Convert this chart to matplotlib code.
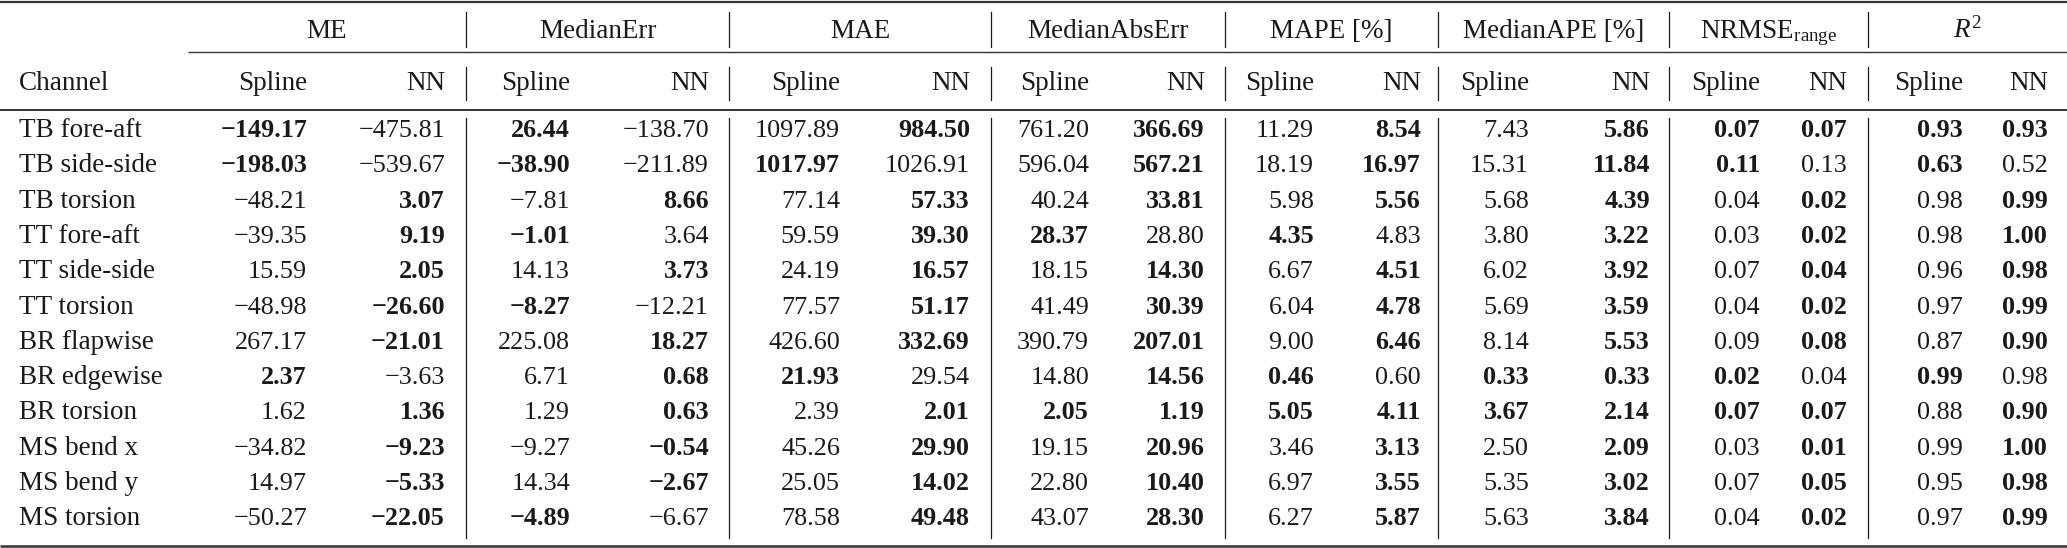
import matplotlib
matplotlib.use("Agg")
import matplotlib.pyplot as plt

# data
channels = ["TB fore-aft", "TB side-side", "TB torsion", "TT fore-aft", "TT side-side",
            "TT torsion", "BR flapwise", "BR edgewise", "BR torsion", "MS bend x",
            "MS bend y", "MS torsion"]
metrics = ["ME", "MedianErr", "MAE", "MedianAbsErr", "MAPE [%]", "MedianAPE [%]",
           "NRMSE$_{\\mathrm{range}}$", "$R^2$"]
methods = ["Spline", "NN"]

me_spline = [-149.17, -198.03, -48.21, -39.35, 15.59, -48.98, 267.17, 2.37, 1.62, -34.82, 14.97, -50.27]
me_nn = [-475.81, -539.67, 3.07, 9.19, 2.05, -26.60, -21.01, -3.63, 1.36, -9.23, -5.33, -22.05]
mederr_spline = [26.44, -38.90, -7.81, -1.01, 14.13, -8.27, 225.08, 6.71, 1.29, -9.27, 14.34, -4.89]
mederr_nn = [-138.70, -211.89, 8.66, 3.64, 3.73, -12.21, 18.27, 0.68, 0.63, -0.54, -2.67, -6.67]
mae_spline = [1097.89, 1017.97, 77.14, 59.59, 24.19, 77.57, 426.60, 21.93, 2.39, 45.26, 25.05, 78.58]
mae_nn = [984.50, 1026.91, 57.33, 39.30, 16.57, 51.17, 332.69, 29.54, 2.01, 29.90, 14.02, 49.48]
medabs_spline = [761.20, 596.04, 40.24, 28.37, 18.15, 41.49, 390.79, 14.80, 2.05, 19.15, 22.80, 43.07]
medabs_nn = [366.69, 567.21, 33.81, 28.80, 14.30, 30.39, 207.01, 14.56, 1.19, 20.96, 10.40, 28.30]
mape_spline = [11.29, 18.19, 5.98, 4.35, 6.67, 6.04, 9.00, 0.46, 5.05, 3.46, 6.97, 6.27]
mape_nn = [8.54, 16.97, 5.56, 4.83, 4.51, 4.78, 6.46, 0.60, 4.11, 3.13, 3.55, 5.87]
medape_spline = [7.43, 15.31, 5.68, 3.80, 6.02, 5.69, 8.14, 0.33, 3.67, 2.50, 5.35, 5.63]
medape_nn = [5.86, 11.84, 4.39, 3.22, 3.92, 3.59, 5.53, 0.33, 2.14, 2.09, 3.02, 3.84]
nrmse_spline = [0.07, 0.11, 0.04, 0.03, 0.07, 0.04, 0.09, 0.02, 0.07, 0.03, 0.07, 0.04]
nrmse_nn = [0.07, 0.13, 0.02, 0.02, 0.04, 0.02, 0.08, 0.04, 0.07, 0.01, 0.05, 0.02]
r2_spline = [0.93, 0.63, 0.98, 0.98, 0.96, 0.97, 0.87, 0.99, 0.88, 0.99, 0.95, 0.97]
r2_nn = [0.93, 0.52, 0.99, 1.00, 0.98, 0.99, 0.90, 0.98, 0.90, 1.00, 0.98, 0.99]

# bold (best) flags, 1 = bold
me_bold_s = [1, 1, 0, 0, 0, 0, 0, 1, 0, 0, 0, 0]
me_bold_n = [0, 0, 1, 1, 1, 1, 1, 0, 1, 1, 1, 1]
mederr_bold_s = [1, 1, 0, 1, 0, 1, 0, 0, 0, 0, 0, 1]
mederr_bold_n = [0, 0, 1, 0, 1, 0, 1, 1, 1, 1, 1, 0]
mae_bold_s = [0, 1, 0, 0, 0, 0, 0, 1, 0, 0, 0, 0]
mae_bold_n = [1, 0, 1, 1, 1, 1, 1, 0, 1, 1, 1, 1]
medabs_bold_s = [0, 0, 0, 1, 0, 0, 0, 0, 1, 0, 0, 0]
medabs_bold_n = [1, 1, 1, 0, 1, 1, 1, 1, 1, 1, 1, 1]
mape_bold_s = [0, 0, 0, 1, 0, 0, 0, 1, 1, 0, 0, 0]
mape_bold_n = [1, 1, 1, 0, 1, 1, 1, 0, 1, 1, 1, 1]
medape_bold_s = [0, 0, 0, 0, 0, 0, 0, 1, 1, 0, 0, 0]
medape_bold_n = [1, 1, 1, 1, 1, 1, 1, 1, 1, 1, 1, 1]
nrmse_bold_s = [1, 1, 0, 0, 0, 0, 0, 1, 1, 0, 0, 0]
nrmse_bold_n = [1, 0, 1, 1, 1, 1, 1, 0, 1, 1, 1, 1]
r2_bold_s = [1, 1, 0, 0, 0, 0, 0, 1, 0, 0, 0, 0]
r2_bold_n = [1, 0, 1, 1, 1, 1, 1, 0, 1, 1, 1, 1]

columns = [
    (me_spline, me_bold_s), (me_nn, me_bold_n),
    (mederr_spline, mederr_bold_s), (mederr_nn, mederr_bold_n),
    (mae_spline, mae_bold_s), (mae_nn, mae_bold_n),
    (medabs_spline, medabs_bold_s), (medabs_nn, medabs_bold_n),
    (mape_spline, mape_bold_s), (mape_nn, mape_bold_n),
    (medape_spline, medape_bold_s), (medape_nn, medape_bold_n),
    (nrmse_spline, nrmse_bold_s), (nrmse_nn, nrmse_bold_n),
    (r2_spline, r2_bold_s), (r2_nn, r2_bold_n),
]

plt.rcParams['font.family'] = ['Liberation Serif', 'DejaVu Serif']
plt.rcParams['mathtext.fontset'] = 'custom'
plt.rcParams['mathtext.rm'] = 'Liberation Serif'
plt.rcParams['mathtext.it'] = 'Liberation Serif:italic'
plt.rcParams['mathtext.bf'] = 'Liberation Serif:bold'

W, H = 2067, 548
fig = plt.figure(figsize=(W / 100, H / 100), dpi=100)
ax = fig.add_axes([0, 0, 1, 1])
ax.set_xlim(0, W)
ax.set_ylim(H, 0)
ax.axis('off')

fs = 19.5      # labels
fs_num = 18.8  # numbers look a bit narrower in the original
col = '#1a1a1a'
rule_col = '#333333'

# layout (pixel positions)
col_right = [307, 445, 570, 709, 840, 970, 1089, 1205, 1314, 1421, 1529, 1650, 1760, 1847, 1963, 2048]
vlines = [466, 729, 991, 1225, 1438, 1669, 1868]
group_edges = [188] + vlines + [W]
y_group = 38
y_sub = 90
y_row0 = 137
row_step = 35.3


def fmt(v):
    s = f"{abs(v):.2f}"
    return ("\u2212" + s) if v < 0 else s


# horizontal rules
ax.plot([0, W], [2, 2], color=rule_col, lw=1.6, solid_capstyle='butt')
ax.plot([188, W], [52, 52], color=rule_col, lw=1.0, solid_capstyle='butt')
ax.plot([0, W], [110, 110], color=rule_col, lw=1.4, solid_capstyle='butt')
ax.plot([0, W], [546, 546], color=rule_col, lw=1.8, solid_capstyle='butt')

# vertical separators
for x in vlines:
    ax.plot([x, x], [12, 47], color=col, lw=0.9)
    ax.plot([x, x], [67, 100], color=col, lw=0.9)
    ax.plot([x, x], [118, 538], color=col, lw=0.9)

# group headers
for i, m in enumerate(metrics):
    cx = (group_edges[i] + group_edges[i + 1]) / 2
    ax.text(cx, y_group, m, ha='center', va='baseline', fontsize=fs, color=col)

# sub headers
ax.text(19, y_sub, "Channel", ha='left', va='baseline', fontsize=fs, color=col)
for j, xr in enumerate(col_right):
    ax.text(xr, y_sub, methods[j % 2], ha='right', va='baseline', fontsize=fs, color=col)

# body
for r, ch in enumerate(channels):
    y = y_row0 + r * row_step
    ax.text(19, y, ch, ha='left', va='baseline', fontsize=fs, color=col)
    for j, (vals, bold) in enumerate(columns):
        ax.text(col_right[j], y, fmt(vals[r]), ha='right', va='baseline', fontsize=fs_num,
                color=col, fontweight='bold' if bold[r] else 'normal')

fig.savefig('out.png', dpi=100)
